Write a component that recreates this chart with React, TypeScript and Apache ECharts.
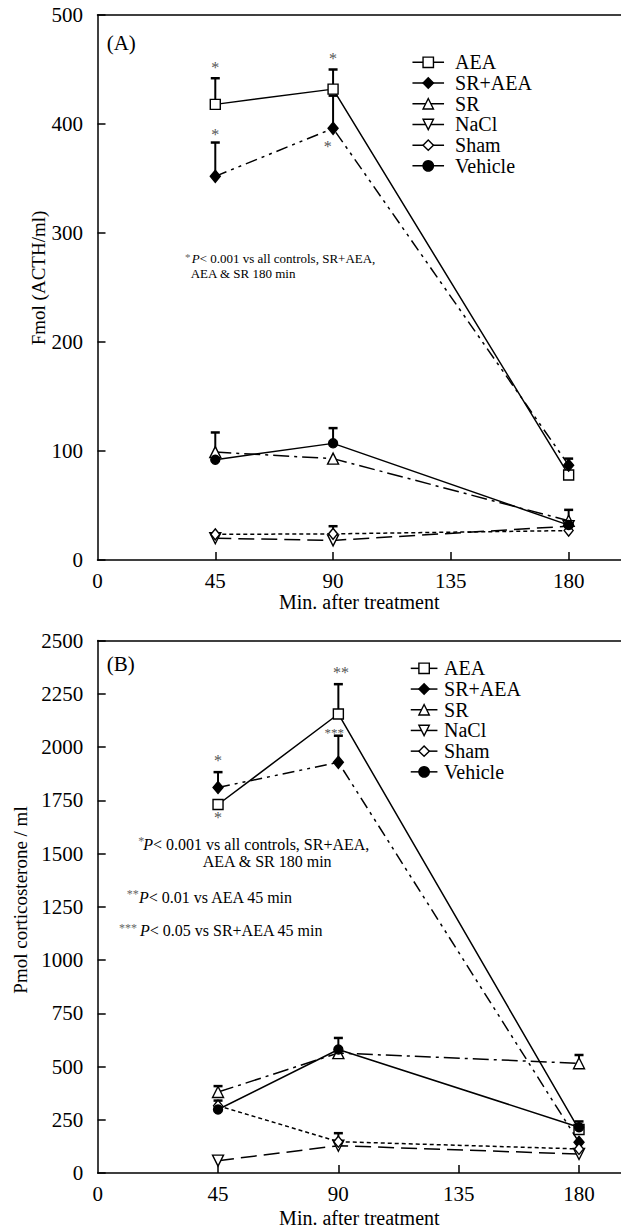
import React, { useEffect, useRef } from 'react';
import * as echarts from 'echarts';

const FONT = 'Liberation Serif';

// ---------- data ----------
const minutes = [45, 90, 180];
const groupNames = ['AEA', 'SR+AEA', 'SR', 'NaCl', 'Sham', 'Vehicle'];

// Panel A: Fmol (ACTH/ml)
const acthAEA = [418, 432, 78];
const acthSRAEA = [352, 396, 87];
const acthSR = [99, 93, 36];
const acthNaCl = [20, 18, 31];
const acthSham = [23.5, 24, 27];
const acthVehicle = [92, 107, 32];
// upper error (SEM) for panel A
const acthErrAEA = [24, 18, 0];
const acthErrSRAEA = [31, 30, 6];
const acthErrSR = [18, 0, 10];
const acthErrNaCl = [0, 0, 0];
const acthErrSham = [0, 7, 0];
const acthErrVehicle = [0, 14, 0];

// Panel B: Pmol corticosterone / ml
const corAEA = [1730, 2155, 204];
const corSRAEA = [1810, 1928, 144];
const corSR = [380, 563, 515];
const corNaCl = [58, 128, 89];
const corSham = [316, 147, 113];
const corVehicle = [298, 580, 215];
const corErrAEA = [0, 140, 38];
const corErrSRAEA = [72, 125, 0];
const corErrSR = [28, 0, 39];
const corErrNaCl = [0, 0, 0];
const corErrSham = [24, 40, 0];
const corErrVehicle = [0, 54, 0];

// significance marks (x, y in data units) and their texts
const starPosA = [[45, 452], [45, 390], [90, 460], [88, 379]];
const starTextA = ['*', '*', '*', '*'];
const starPosB = [[45, 1935], [45, 1670], [91, 2352], [88.5, 2070]];
const starTextB = ['*', '*', '**', '***'];

// axis ticks
const xTicks = [0, 45, 90, 135, 180];
const yMaxA = 500;
const yStepA = 100;
const yMaxB = 2500;
const yStepB = 250;

// ---------- styles ----------
const downTri = 'path://M0,0 L10,0 L5,10 Z';
const styles: Record<string, any> = {
  'AEA': { symbol: 'rect', size: 10, fill: '#fff', dash: 'solid' },
  'SR+AEA': { symbol: 'diamond', size: [10, 12], fill: '#000', dash: [12, 5, 3, 5, 3, 5] },
  'SR': { symbol: 'triangle', size: 11, fill: '#fff', dash: [16, 5, 3, 5] },
  'NaCl': { symbol: downTri, size: 11, fill: '#fff', dash: [16, 7] },
  'Sham': { symbol: 'diamond', size: [9, 11], fill: '#fff', dash: [4, 3] },
  'Vehicle': { symbol: 'circle', size: 9, fill: '#000', dash: 'solid' },
};

function lineSeries(name: string, vals: number[], xi: number, yi: number) {
  const s = styles[name];
  return {
    type: 'line',
    name,
    xAxisIndex: xi,
    yAxisIndex: yi,
    data: minutes.map((m, i) => [m, vals[i]]),
    symbol: s.symbol,
    symbolSize: s.size,
    showAllSymbol: true,
    itemStyle: { color: s.fill, borderColor: '#000', borderWidth: 1.4 },
    lineStyle: { color: '#000', width: 1.5, type: s.dash },
    z: 3,
    silent: true,
    emphasis: { disabled: true },
  };
}

function errSeries(vals: number[][], errs: number[][], xi: number, yi: number) {
  const data: number[][] = [];
  vals.forEach((v, si) => {
    v.forEach((y, i) => {
      if (errs[si][i] > 0) data.push([minutes[i], y, errs[si][i]]);
    });
  });
  return {
    type: 'custom',
    xAxisIndex: xi,
    yAxisIndex: yi,
    data,
    z: 2,
    silent: true,
    encode: { x: 0, y: 1 },
    renderItem: (params: any, api: any) => {
      const base = api.coord([api.value(0), api.value(1)]);
      const top = api.coord([api.value(0), api.value(1) + api.value(2)]);
      return {
        type: 'group',
        children: [
          { type: 'line', shape: { x1: base[0], y1: base[1], x2: top[0], y2: top[1] }, style: { stroke: '#000', lineWidth: 2 } },
          { type: 'line', shape: { x1: top[0] - 4.5, y1: top[1], x2: top[0] + 4.5, y2: top[1] }, style: { stroke: '#000', lineWidth: 2.5 } },
        ],
      };
    },
  };
}

function starSeries(pos: number[][], texts: string[], xi: number, yi: number) {
  return {
    type: 'custom',
    xAxisIndex: xi,
    yAxisIndex: yi,
    data: pos,
    z: 5,
    silent: true,
    encode: { x: 0, y: 1 },
    renderItem: (params: any, api: any) => {
      const p = api.coord([api.value(0), api.value(1)]);
      const t = texts[params.dataIndex];
      return {
        type: 'text',
        x: p[0],
        y: p[1],
        style: {
          text: t,
          fontFamily: FONT,
          fontSize: t.length === 3 ? 13 : 16,
          fill: '#555',
          align: 'center',
          verticalAlign: 'middle',
        },
      };
    },
  };
}

const plainNum = (v: number) => String(v);

function bottomX(gi: number, max: number, gap: number) {
  return {
    type: 'value',
    gridIndex: gi,
    position: 'bottom',
    min: 0,
    max,
    interval: 45,
    name: 'Min. after treatment',
    nameLocation: 'middle',
    nameGap: gap,
    nameTextStyle: { fontFamily: FONT, fontSize: 20, color: '#000' },
    axisLine: { show: true, onZero: false, lineStyle: { color: '#000', width: 1.5 } },
    axisTick: { show: true, inside: true, length: 8, customValues: [45, 90, 135, 180], lineStyle: { color: '#000', width: 1.5 } },
    axisLabel: { show: true, customValues: xTicks, formatter: plainNum, margin: 10, fontFamily: FONT, fontSize: 21, color: '#000' },
    splitLine: { show: false },
  };
}

function topX(gi: number, max: number) {
  return {
    type: 'value',
    gridIndex: gi,
    position: 'top',
    min: 0,
    max,
    axisLine: { show: true, onZero: false, lineStyle: { color: '#000', width: 1.5 } },
    axisTick: { show: false },
    axisLabel: { show: false },
    splitLine: { show: false },
  };
}

function yAx(gi: number, max: number, step: number) {
  return {
    type: 'value',
    gridIndex: gi,
    min: 0,
    max,
    interval: step,
    axisLine: { show: true, onZero: false, lineStyle: { color: '#000', width: 1.5 } },
    axisTick: { show: true, inside: true, length: 8, lineStyle: { color: '#000', width: 1.5 } },
    axisLabel: { show: true, formatter: plainNum, margin: 14.5, fontFamily: FONT, fontSize: 21, color: '#000' },
    splitLine: { show: false },
  };
}

function legend(left: number, top: number, itemWidth: number, padLeft: number) {
  return {
    show: true,
    orient: 'vertical',
    left,
    top,
    itemWidth,
    itemHeight: 13,
    itemGap: 0,
    padding: 0,
    selectedMode: false,
    data: groupNames,
    lineStyle: { type: 'solid', width: 1.5, color: '#000' },
    itemStyle: { borderWidth: 1.4, borderColor: '#000' },
    textStyle: { fontFamily: FONT, fontSize: 20, lineHeight: 20.7, color: '#000', padding: [0, 0, 0, padLeft] },
  };
}

function txt(text: string, x: number, y: number, size: number, extra: any = {}) {
  return {
    type: 'text',
    x,
    y,
    silent: true,
    ...extra,
    style: {
      text,
      fontFamily: FONT,
      fontSize: size,
      fill: '#000',
      align: 'left',
      verticalAlign: 'middle',
      rich: { i: { fontStyle: 'italic', fontFamily: FONT, fontSize: size, fill: '#000' } },
      ...(extra.style || {}),
    },
  };
}

const sup = (text: string, x: number, y: number, size: number) =>
  txt(text, x, y, size, { style: { fill: '#666' } });

export default function App() {
  const ref = useRef<HTMLDivElement>(null);
  useEffect(() => {
    if (!ref.current) return;
    const chart = echarts.init(ref.current, null, { renderer: 'svg' });
    const valsA = [acthAEA, acthSRAEA, acthSR, acthNaCl, acthSham, acthVehicle];
    const errsA = [acthErrAEA, acthErrSRAEA, acthErrSR, acthErrNaCl, acthErrSham, acthErrVehicle];
    const valsB = [corAEA, corSRAEA, corSR, corNaCl, corSham, corVehicle];
    const errsB = [corErrAEA, corErrSRAEA, corErrSR, corErrNaCl, corErrSham, corErrVehicle];
    const option: any = {
      animation: false,
      backgroundColor: '#fff',
      textStyle: { fontFamily: FONT, color: '#000' },
      grid: [
        { left: 97.5, top: 15, right: 0, height: 545 },
        { left: 97.7, top: 640.5, right: 0, height: 533.5 },
      ],
      xAxis: [bottomX(0, 200, 27), topX(0, 200), bottomX(1, 195.7, 35), topX(1, 195.7)],
      yAxis: [yAx(0, yMaxA, yStepA), yAx(1, yMaxB, yStepB)],
      legend: [legend(411.7, 52, 31.6, 6), legend(410, 658, 26.7, 1.6)],
      series: [
        errSeries(valsA, errsA, 0, 0),
        ...groupNames.map((n, i) => lineSeries(n, valsA[i], 0, 0)),
        starSeries(starPosA, starTextA, 0, 0),
        errSeries(valsB, errsB, 2, 1),
        ...groupNames.map((n, i) => lineSeries(n, valsB[i], 2, 1)),
        starSeries(starPosB, starTextB, 2, 1),
      ],
      graphic: [
        txt('(A)', 106.7, 43.3, 21),
        txt('(B)', 106.7, 664.3, 21),
        txt('Fmol (ACTH/ml)', 38, 278, 19, { rotation: Math.PI / 2, style: { align: 'center' } }),
        txt('Pmol corticosterone / ml', 20, 900, 19, { rotation: Math.PI / 2, style: { align: 'center' } }),
        // panel A note
        sup('*', 185, 256.5, 11),
        txt('{i|P}< 0.001 vs all controls, SR+AEA,', 191.7, 258.3, 13),
        txt('AEA & SR 180 min', 190.7, 273.3, 13),
        // panel B notes
        sup('*', 138.3, 841, 12),
        txt('{i|P}< 0.001 vs all controls, SR+AEA,', 143.3, 844, 16),
        txt('AEA & SR 180 min', 202.7, 861.7, 16),
        sup('**', 126.7, 894, 12),
        txt('{i|P}< 0.01 vs AEA 45 min', 139, 897.3, 16),
        sup('***', 119, 928, 12),
        txt('{i|P}< 0.05 vs SR+AEA 45 min', 140, 930, 16),
      ],
    };
    chart.setOption(option);
    return () => chart.dispose();
  }, []);
  return (
    <div
      ref={ref}
      style={{ position: 'fixed', left: 0, top: 0, width: 621, height: 1229, background: '#fff' }}
    />
  );
}
